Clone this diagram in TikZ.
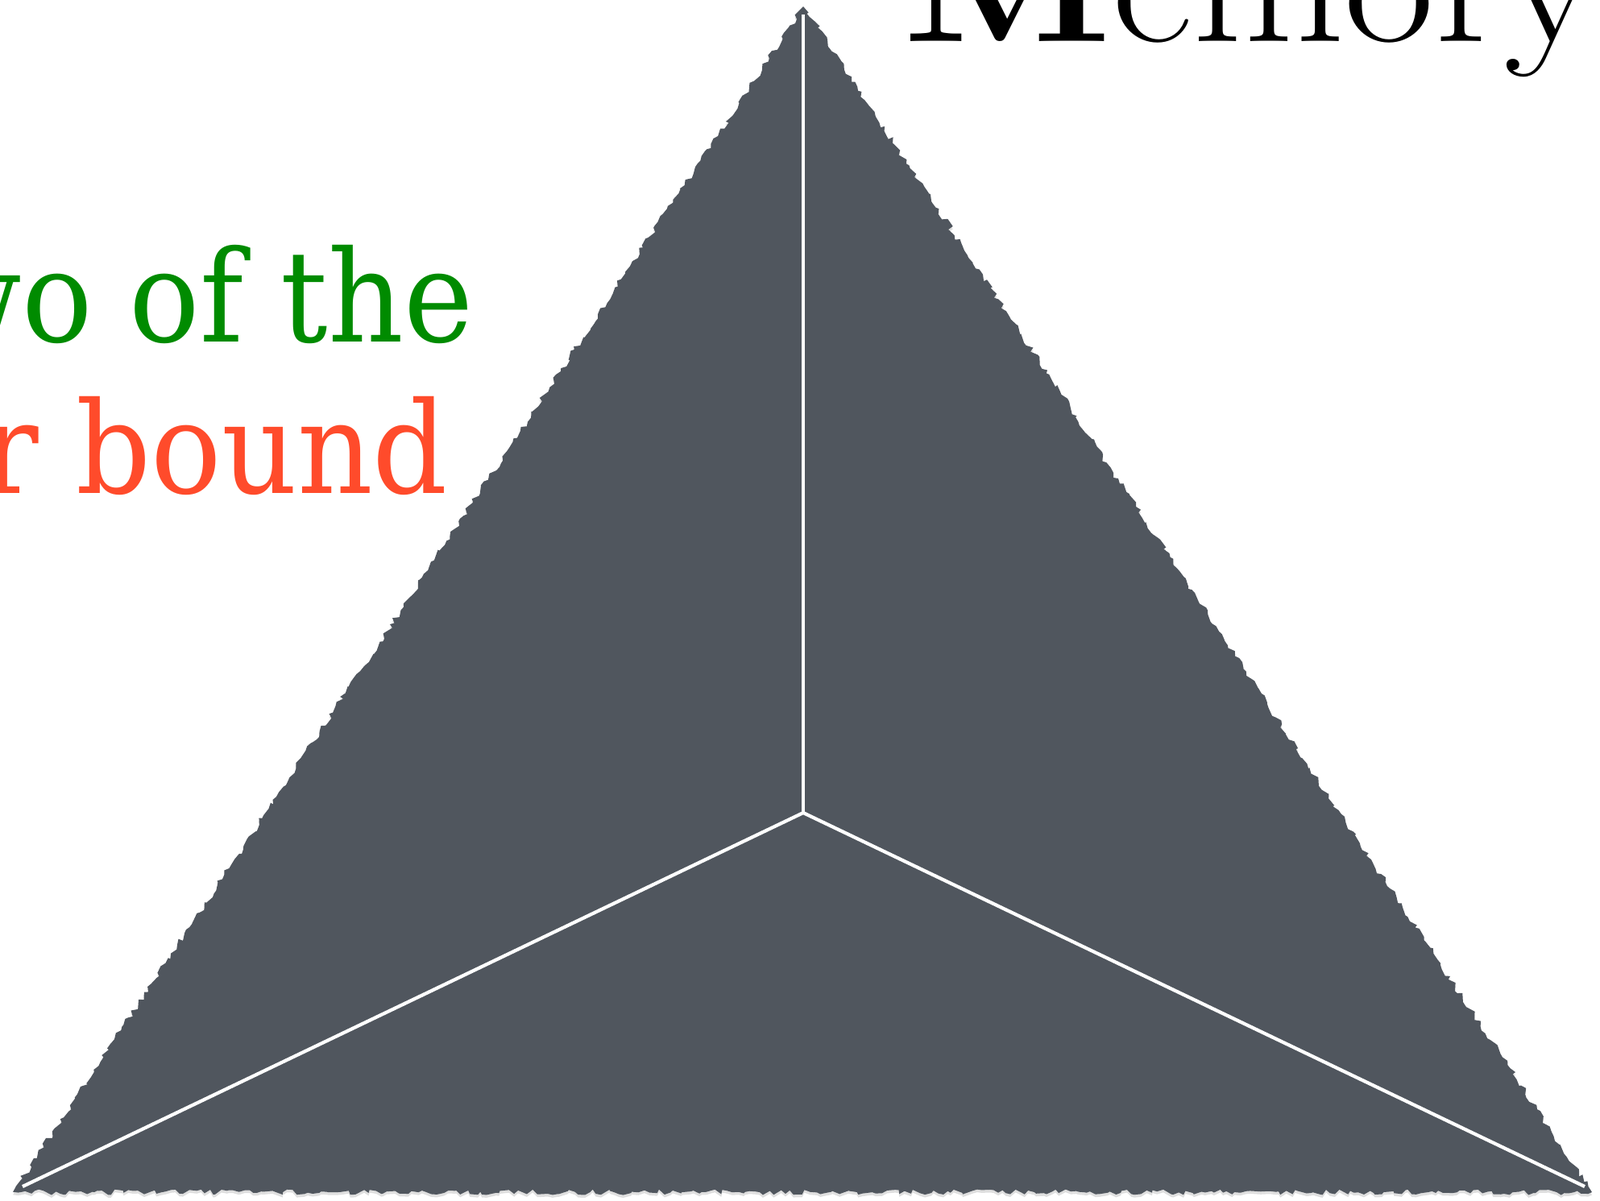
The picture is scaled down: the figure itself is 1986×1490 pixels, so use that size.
\documentclass[tikz,border=0pt]{standalone}
\usepackage{fontspec}
\newfontfamily\notefont[FakeStretch=0.92]{DejaVu Serif}
\newfontfamily\titlefont[FakeStretch=1.12]{Latin Modern Roman}
\usetikzlibrary{decorations.pathmorphing,shadows}
\definecolor{slate}{RGB}{80,86,94}
\definecolor{leaf}{RGB}{0,139,0}
\definecolor{flame}{RGB}{255,75,43}
\tikzset{
  rough/.style={fill=slate,decorate,
    decoration={random steps,segment length=1.6pt,amplitude=1pt},
    drop shadow={shadow xshift=0pt,shadow yshift=-1pt,opacity=0.25}},
  split/.style={draw=white,line width=1.2pt},
  note/.style={font=\notefont\fontsize{45}{50}\selectfont,text=#1,
    anchor=base east,inner sep=0pt},
  note/.default=leaf,
  title/.style={font=\titlefont\fontsize{62}{70}\selectfont,anchor=base west,inner sep=0pt},
}

\begin{document}
\begin{tikzpicture}[x=0.01cm,y=-0.01cm]
  \useasboundingbox (0,0) rectangle (1986,1490);
  % triangle
  \coordinate (apex) at (997,8);
  \coordinate (left) at (16,1480);
  \coordinate (right) at (1976,1480);
  \fill[rough] (apex) -- (left) -- (right) -- cycle;
  % split lines
  \coordinate (top) at (997,18);
  \coordinate (mid) at (997,1009);
  \coordinate (bl) at (28,1473);
  \coordinate (br) at (1967,1473);
  \draw[split] (top) -- (mid);
  \draw[split] (bl) -- (mid) -- (br);
  % labels
  \node[title] (mem) at (1120,51) {\textbf{M}emory};
  \node[note=leaf] (pick) at (588,424) {wo of the};
  \node[note=flame] (bound) at (557,612) {r bound};
\end{tikzpicture}
\end{document}
